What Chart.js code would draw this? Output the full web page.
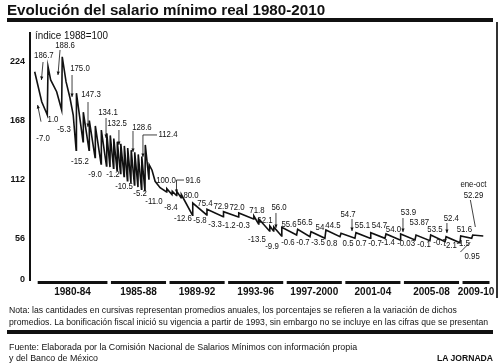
<!DOCTYPE html>
<html lang="es">
<head>
<meta charset="utf-8">
<script src="https://cdn.jsdelivr.net/npm/chart.js@4"></script>
<style>
  body { margin:0; background:#fff; }
  #wrap { position:relative; width:500px; height:363px; overflow:hidden; background:#fff; }
  canvas { position:absolute; left:0; top:0; }
  .t { position:absolute; white-space:nowrap; line-height:1; color:#111; font-family:"Liberation Sans", Arial, Helvetica, sans-serif; transform-origin:0 0; }
  .bar { position:absolute; background:#111; }
</style>
</head>
<body>
<div id="wrap">
  <canvas id="c" width="500" height="363"></canvas>
  <div class="t" style="left:7px;top:2px;font-weight:bold;font-size:15px;" data-w="318">Evolución del salario mínimo real 1980-2010</div>
  <div class="bar" style="left:7px;top:18px;width:486px;height:4px;"></div>
  <div class="bar" style="left:496px;top:22px;width:1.5px;height:276px;background:#333;"></div>
  <div class="t" style="left:35px;top:31px;font-size:10px;" data-w="73">índice 1988=100</div>
  <div class="t" style="left:9px;top:305px;font-size:9.5px;" data-w="448">Nota: las cantidades en cursivas representan promedios anuales, los porcentajes se refieren a la variación de dichos</div>
  <div class="t" style="left:9px;top:316.5px;font-size:9.5px;" data-w="479">promedios. La bonificación fiscal inició su vigencia a partir de 1993, sin embargo no se incluye en las cifras que se presentan</div>
  <div class="bar" style="left:7px;top:330px;width:486px;height:4px;"></div>
  <div class="t" style="left:9px;top:342px;font-size:9.5px;" data-w="348">Fuente: Elaborada por la Comisión Nacional de Salarios Mínimos con información propia</div>
  <div class="t" style="left:9px;top:353px;font-size:9.5px;" data-w="89">y del Banco de México</div>
  <div class="t" style="left:437px;top:353px;font-size:9.5px;font-weight:bold;" data-w="56">LA JORNADA</div>
</div>
<script>
const serie = [
  [1980.00,214.3],[1980.48,185.9],[1980.77,176.4],[1980.86,173.3],
  [1980.91,219.1],[1981.09,206.5],[1981.50,195.4],[1981.84,178.1],
  [1981.88,228.5],[1982.14,204.9],[1982.41,189.4],[1982.63,173.3],[1982.83,140.0],
  [1982.85,194.0],
  [1983.30,148],[1983.32,176],
  [1983.71,140],[1983.73,168],
  [1984.12,133],[1984.14,163],
  [1984.53,127],[1984.55,159],
  [1984.90,125],[1984.92,156],
  [1985.14,124],[1985.16,154],
  [1985.38,123],[1985.40,151],
  [1985.62,121],[1985.64,148],
  [1985.86,118],[1985.88,146],
  [1986.10,115],[1986.12,144],
  [1986.33,111],[1986.35,142],
  [1986.57,109],[1986.59,140],
  [1986.81,107],[1986.83,138],
  [1987.05,105],[1987.07,136],
  [1987.29,103],[1987.31,134],
  [1987.53,101],[1987.55,145],
  [1987.80,112],[1987.82,126],
  [1988.01,121],[1988.22,110.5],[1988.56,104.5],[1989.00,100.5],
  [1989.02,103.5],[1989.37,98],[1989.39,101],[1989.68,97],[1989.70,101],
  [1989.99,95],[1990.01,98],[1990.77,78.5],
  [1990.79,89.9],[1991.74,78.6],[1991.76,84.0],[1992.87,77.0],[1992.89,81.7],
  [1993.91,76.7],[1993.93,80.5],[1994.94,74.8],[1994.96,77.6],
  [1995.28,70.1],[1995.30,74.8],[1996.03,63.4],[1996.05,68.2],
  [1996.30,63.4],[1996.32,67.2],[1996.85,58.7],[1996.87,66.9],
  [1997.88,59.6],[1997.95,65.0],
  [1998.79,58.0],[1998.86,62.8],
  [1999.81,56.5],[1999.88,64.4],
  [2000.84,58.0],[2000.91,61.2],
  [2001.86,56.5],[2001.93,61.8],
  [2002.89,56.5],[2002.94,61.8],
  [2003.91,56.5],[2003.98,60.6],
  [2004.94,54.9],[2004.98,60.6],
  [2005.96,54.9],[2006.03,59.6],
  [2006.98,54.2],[2007.03,59.6],
  [2008.01,53.3],[2008.08,58.0],
  [2009.03,52.3],[2009.08,58.7],
  [2009.83,56.5],[2009.90,59.6],
  [2010.62,58.7]
];

// ---- Eje y ----
const yTicks = [17, 56, 112, 168, 224];
const yTickLabels = ['0', '56', '112', '168', '224'];

// ---- Periodos del eje x ----
const periodos = ['1980-84','1985-88','1989-92','1993-96','1997-2000','2001-04','2005-08','2009-10'];
const periodoInicio = [1980, 1985, 1989, 1993, 1997, 2001, 2005, 2009];
const periodoFin = [1985, 1989, 1993, 1997, 2001, 2005, 2009, 2011.08];

// ---- Promedios anuales y variaciones ----
const anios = [1980,1981,1982,1983,1984,1985,1986,1987,1988,1989,1990,1991,1992,1993,1994,1995,1996,1997,1998,1999,2000,2001,2002,2003,2004,2005,2006,2007,2008,2009,2010];
const promedios = ['186.7','188.6','175.0','147.3','134.1','132.5','128.6','112.4','100.0','91.6','80.0','75.4','72.9','72.0','71.8','62.1','56.0','55.6','56.5','54','44.5','54.7','55.1','54.7','54.0','53.9','53.87','53.5','52.4','51.6','52.29'];
const variaciones = ['-7.0','1.0','-5.3','-15.2','-9.0','-1.2','-10.5','-5.2','-11.0','-8.4','-12.6','-5.8','-3.3','-1.2','-0.3','-13.5','-9.9','-0.6','-0.7','-3.5','0.8','0.5','0.7','-0.7','-1.4','-0.03','-0.1','-0.7','-2.1','-1.5','0.95'];

// ---- Ubicación de las etiquetas (en unidades de los ejes) ----
const posPromedios = [[1980.63,229.2],[1982.07,239.6],[1983.09,216.9],[1983.84,192.3],[1985.00,175.2],[1985.62,164.8],[1987.32,161.9],[1989.10,154.4],[1988.96,110.8],[1990.81,111.7],[1990.67,97.5],[1991.62,89.9],[1992.72,86.2],[1993.81,85.2],[1995.17,83.3],[1995.72,73.8],[1996.68,85.7],[1997.36,69.1],[1998.45,71.0],[1999.47,66.3],[2000.36,68.2],[2001.39,79.5],[2002.37,68.2],[2003.53,68.2],[2004.49,64.8],[2005.51,81.4],[2006.26,71.0],[2007.32,64.8],[2008.44,75.7],[2009.33,64.8],[2009.95,97.0]];
const posVariaciones = [[1980.57,151.5],[1981.25,168.6],[1982.00,159.1],[1983.09,128.8],[1984.12,116.5],[1985.34,116.5],[1986.10,105.1],[1987.19,99.4],[1988.14,90.9],[1989.30,85.2],[1990.12,75.7],[1991.28,73.8],[1992.31,69.1],[1993.26,68.2],[1994.22,68.2],[1995.17,55.4],[1996.20,48.3],[1997.29,52.1],[1998.31,52.1],[1999.34,52.1],[2000.29,51.2],[2001.39,51.2],[2002.28,51.2],[2003.23,51.2],[2004.12,52.1],[2005.35,51.2],[2006.58,50.2],[2007.67,52.1],[2008.36,49.3],[2009.25,51.2],[2009.86,38.8]];
const notaUltimo = 'ene-oct';
const posNotaUltimo = [2009.95, 107];

// flechas: lista de puntos [año, valor]; true = con punta
const flechas = [
  [[[1980.57,223.5],[1980.46,206.5]], true],
  [[[1981.73,234.9],[1981.59,211.2]], true],
  [[[1982.55,211.2],[1982.55,190.4]], true],
  [[[1983.64,185.6],[1983.64,161.9]], true],
  [[[1984.87,170.5],[1984.87,151.5]], true],
  [[[1985.75,159.1],[1985.75,144.9]], true],
  [[[1986.71,158.2],[1986.71,138.3]], true],
  [[[1988.35,154.4],[1987.39,154.4],[1987.39,133.5]], true],
  [[[1990.19,111.7],[1989.68,111.7],[1989.68,99.4]], true],
  [[[1996.47,80.5],[1996.47,66.3]], true],
  [[[2001.66,74.8],[2001.66,63.4]], true],
  [[[2005.14,75.7],[2005.14,62.5]], true],
  [[[2008.14,71.0],[2008.14,61.5]], true],
  [[[1980.43,167.0],[1980.20,182.8]], true],
  [[[2009.74,92.8],[2010.08,67.2]], false],
  [[[2009.06,43.5],[2009.74,53.0]], false]
];

const FONT = '"Liberation Sans", Arial, Helvetica, sans-serif';

const decor = {
  id: 'decor',
  afterDraw(chart) {
    const { ctx, scales: { x, y } } = chart;
    const X = t => x.getPixelForValue(t);
    const Y = v => y.getPixelForValue(v);
    const base = Y(yTicks[0]);
    ctx.save();
    // periodos
    ctx.fillStyle = '#111';
    ctx.font = 'bold 10px ' + FONT;
    ctx.textAlign = 'center';
    ctx.textBaseline = 'middle';
    periodos.forEach((p, i) => {
      const x0 = X(periodoInicio[i]) + 3, x1 = X(periodoFin[i]) - 0.5;
      ctx.fillRect(x0, base + 1, x1 - x0, 3);
      ctx.fillText(p, (x0 + x1) / 2, base + 12);
    });
    // etiquetas
    ctx.font = '9px ' + FONT;
    const txt = (s, p) => {
      ctx.save();
      ctx.translate(X(p[0]), Y(p[1]));
      ctx.scale(0.87, 1);
      ctx.fillText(s, 0, 0);
      ctx.restore();
    };
    promedios.forEach((s, i) => txt(s, posPromedios[i]));
    variaciones.forEach((s, i) => txt(s, posVariaciones[i]));
    txt(notaUltimo, posNotaUltimo);
    // flechas
    ctx.strokeStyle = '#111';
    ctx.lineWidth = 0.8;
    flechas.forEach(([pts, head]) => {
      const P = pts.map(p => [X(p[0]), Y(p[1])]);
      ctx.beginPath();
      ctx.moveTo(P[0][0], P[0][1]);
      for (let k = 1; k < P.length; k++) ctx.lineTo(P[k][0], P[k][1]);
      ctx.stroke();
      if (head) {
        const a = P[P.length - 2], b = P[P.length - 1];
        const ang = Math.atan2(b[1] - a[1], b[0] - a[0]);
        const L = 3.5, W = 1.6;
        ctx.beginPath();
        ctx.moveTo(b[0], b[1]);
        ctx.lineTo(b[0] - L * Math.cos(ang) + W * Math.sin(ang), b[1] - L * Math.sin(ang) - W * Math.cos(ang));
        ctx.lineTo(b[0] - L * Math.cos(ang) - W * Math.sin(ang), b[1] - L * Math.sin(ang) + W * Math.cos(ang));
        ctx.closePath();
        ctx.fill();
      }
    });
    ctx.restore();
  }
};

new Chart(document.getElementById('c'), {
  type: 'line',
  data: {
    datasets: [{
      data: serie.map(([t, v]) => ({ x: t, y: v })),
      borderColor: '#111',
      borderWidth: 1.6,
      pointRadius: 0,
      tension: 0,
      fill: false
    }]
  },
  options: {
    responsive: false,
    animation: false,
    devicePixelRatio: 1,
    layout: { padding: { left: 0, top: 33, right: 10, bottom: 83 } },
    plugins: { legend: { display: false }, tooltip: { enabled: false } },
    scales: {
      x: { type: 'linear', min: 1979.68, max: 2011.08, display: false },
      y: {
        min: 17, max: 251,
        afterFit: s => { s.width = 30; },
        afterBuildTicks: s => { s.ticks = yTicks.map(v => ({ value: v })); },
        grid: { display: false, drawTicks: false },
        border: { display: true, color: '#111', width: 2 },
        ticks: {
          padding: 5,
          color: '#111',
          font: { family: FONT, size: 9, weight: 'bold' },
          callback: v => yTickLabels[yTicks.indexOf(v)]
        }
      }
    }
  },
  plugins: [decor]
});

// ajustar ancho de los textos
document.querySelectorAll('.t[data-w]').forEach(el => {
  const w = el.getBoundingClientRect().width;
  const target = parseFloat(el.dataset.w);
  if (w > 0) el.style.transform = 'scaleX(' + (target / w).toFixed(3) + ')';
});
</script>
</body>
</html>
